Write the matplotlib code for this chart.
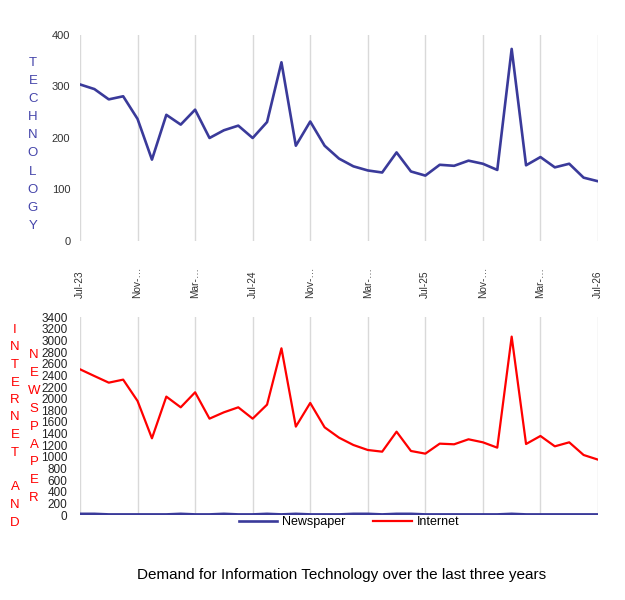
import matplotlib
matplotlib.use("Agg")
import matplotlib.pyplot as plt

plt.rcParams['font.family'] = ['Liberation Sans', 'DejaVu Sans']

# monthly, Jul-23 .. Jul-26
months = ['Jul-23', 'Aug-23', 'Sep-23', 'Oct-23', 'Nov-23', 'Dec-23',
          'Jan-24', 'Feb-24', 'Mar-24', 'Apr-24', 'May-24', 'Jun-24',
          'Jul-24', 'Aug-24', 'Sep-24', 'Oct-24', 'Nov-24', 'Dec-24',
          'Jan-25', 'Feb-25', 'Mar-25', 'Apr-25', 'May-25', 'Jun-25',
          'Jul-25', 'Aug-25', 'Sep-25', 'Oct-25', 'Nov-25', 'Dec-25',
          'Jan-26', 'Feb-26', 'Mar-26', 'Apr-26', 'May-26', 'Jun-26',
          'Jul-26']

technology = [304, 295, 275, 281, 237, 158, 245, 226, 255, 200, 215, 224,
              200, 231, 347, 185, 232, 185, 160, 145, 137, 133, 172, 135,
              127, 148, 146, 156, 150, 138, 373, 147, 163, 143, 150, 123,
              116]

internet = [2506, 2390, 2276, 2328, 1961, 1319, 2036, 1852, 2110, 1657, 1766,
            1852, 1657, 1898, 2867, 1520, 1927, 1508, 1330, 1204, 1118, 1089,
            1433, 1101, 1055, 1227, 1216, 1302, 1250, 1158, 3068, 1221, 1359,
            1181, 1250, 1032, 952]

newspaper = [20, 20, 10, 10, 10, 10, 10, 20, 10, 10, 20, 10, 10, 20, 10, 20,
             10, 10, 10, 20, 20, 10, 20, 20, 10, 10, 10, 10, 10, 10, 20, 10,
             10, 10, 10, 10, 10]

tick_labels = ['Jul-23', 'Nov-…', 'Mar-…', 'Jul-24', 'Nov-…', 'Mar-…',
               'Jul-25', 'Nov-…', 'Mar-…', 'Jul-26']

blue = '#3a3a9a'
red = '#ff0000'
grid_c = '#d9d9d9'

W, H = 625, 600
fig = plt.figure(figsize=(6.25, 6), dpi=100)

x = list(range(len(months)))
ticks = x[::4]

# top chart
ax1 = fig.add_axes([80 / W, 1 - 241 / H, 518 / W, 206 / H])
ax1.plot(x, technology, color=blue, lw=1.9)
ax1.set_xlim(0, 36)
ax1.set_ylim(0, 400)
ax1.set_yticks([0, 100, 200, 300, 400])
ax1.set_xticks(ticks)
ax1.set_xticklabels(tick_labels, rotation=90, va='bottom', ha='center')
ax1.tick_params(axis='x', length=0, pad=41, labelsize=7.3, labelcolor='#333333')
ax1.tick_params(axis='y', length=0, pad=7, labelsize=8, labelcolor='#333333')
ax1.grid(axis='x', color=grid_c, lw=1)
for s in ax1.spines.values():
    s.set_visible(False)

# bottom chart
ax2 = fig.add_axes([80 / W, 1 - 515 / H, 518 / W, 197.7 / H])
ax2.plot(x, newspaper, color=blue, lw=1.9, label='Newspaper')
ax2.plot(x, internet, color=red, lw=1.6, label='Internet')
ax2.set_xlim(0, 36)
ax2.set_ylim(0, 3400)
ax2.set_yticks(range(0, 3401, 200))
ax2.set_xticks(ticks)
ax2.set_xticklabels([])
ax2.tick_params(axis='x', length=0)
ax2.tick_params(axis='y', length=0, pad=9, labelsize=8.5, labelcolor='#222222')
ax2.grid(axis='x', color=grid_c, lw=1)
for s in ax2.spines.values():
    s.set_visible(False)

# stacked axis titles
for i, ch in enumerate('TECHNOLOGY'):
    fig.text(33 / W, 1 - (63 + i * 18.1) / H, ch, color='#4444aa',
             fontsize=9.5, ha='center', va='center')
for i, ch in enumerate('INTERNET AND'):
    fig.text(15 / W, 1 - (330 + i * 17.5) / H, ch, color=red,
             fontsize=9.5, ha='center', va='center')
for i, ch in enumerate('NEWSPAPER'):
    fig.text(34 / W, 1 - (355 + i * 17.9) / H, ch, color=red,
             fontsize=9.5, ha='center', va='center')

fig.legend(loc='center', bbox_to_anchor=(349 / W, 1 - 522 / H), ncol=2,
           frameon=False, fontsize=9, handlelength=3.1, handletextpad=0.4,
           columnspacing=2.2)

fig.text(342 / W, 1 - 575 / H,
         'Demand for Information Technology over the last three years',
         ha='center', va='center', fontsize=11)

fig.savefig('out.png', dpi=100)
